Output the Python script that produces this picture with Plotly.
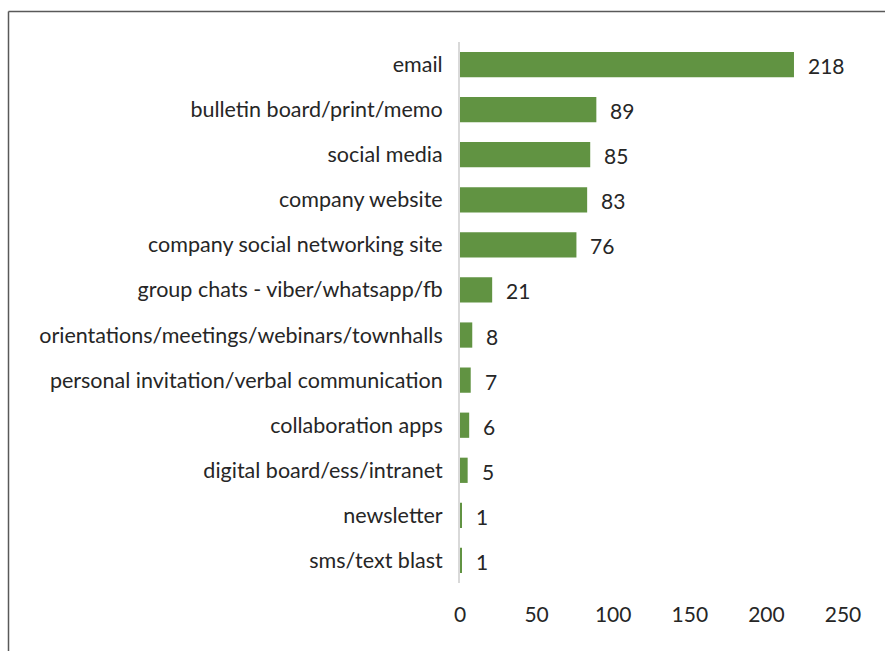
import plotly.graph_objects as go

# Communication channels and number of responses
channels = [
    "email",
    "bulletin board/print/memo",
    "social media",
    "company website",
    "company social networking site",
    "group chats - viber/whatsapp/fb",
    "orientations/meetings/webinars/townhalls",
    "personal invitation/verbal communication",
    "collaboration apps",
    "digital board/ess/intranet",
    "newsletter",
    "sms/text blast",
]
counts = [218, 89, 85, 83, 76, 21, 8, 7, 6, 5, 1, 1]
x_ticks = [0, 50, 100, 150, 200, 250]

W, H = 885, 651
M_L, M_R, M_T, M_B = 460, 42, 42, 68
FONT = "Lato, 'Open Sans', sans-serif"
TEXT_COLOR = "#262626"
BAR_COLOR = "#619342"

fig = go.Figure(
    go.Bar(
        x=counts,
        y=channels,
        orientation="h",
        marker=dict(color=BAR_COLOR, line=dict(width=0)),
        width=0.56,
        hoverinfo="x+y",
    )
)

# Value labels to the right of each bar
for ch, v in zip(channels, counts):
    fig.add_annotation(
        x=v, y=ch, text=str(v), showarrow=False,
        xanchor="left", yanchor="middle", xshift=12, yshift=-1,
        font=dict(family=FONT, size=21, color=TEXT_COLOR),
    )

# Frame around the chart (left and top edges)
pw = W - M_L - M_R
ph = H - M_T - M_B
fx = (8.5 - M_L) / pw
fy = (H - M_B - 11.5) / ph
frame = dict(color="#595959", width=1.5)
fig.add_shape(type="line", xref="paper", yref="paper",
              x0=fx, x1=fx, y0=-1, y1=fy, line=frame)
fig.add_shape(type="line", xref="paper", yref="paper",
              x0=fx, x1=2, y0=fy, y1=fy, line=frame)

fig.update_layout(
    width=W, height=H,
    margin=dict(l=M_L, r=M_R, t=M_T, b=M_B, pad=0),
    paper_bgcolor="white",
    plot_bgcolor="white",
    showlegend=False,
    font=dict(family=FONT, size=21, color=TEXT_COLOR),
    xaxis=dict(
        range=[0, 250],
        tickvals=x_ticks,
        showgrid=False,
        zeroline=False,
        showline=False,
        ticks="outside", ticklen=13, tickcolor="rgba(0,0,0,0)",
        tickfont=dict(family=FONT, size=21, color=TEXT_COLOR),
    ),
    yaxis=dict(
        categoryorder="array",
        categoryarray=channels[::-1],
        showgrid=False,
        zeroline=False,
        showline=True, linecolor="#d9d9d9", linewidth=2,
        ticks="outside", ticklen=11, tickcolor="rgba(0,0,0,0)",
        tickfont=dict(family=FONT, size=21.5, color=TEXT_COLOR),
    ),
)

fig.write_html("out.html")
